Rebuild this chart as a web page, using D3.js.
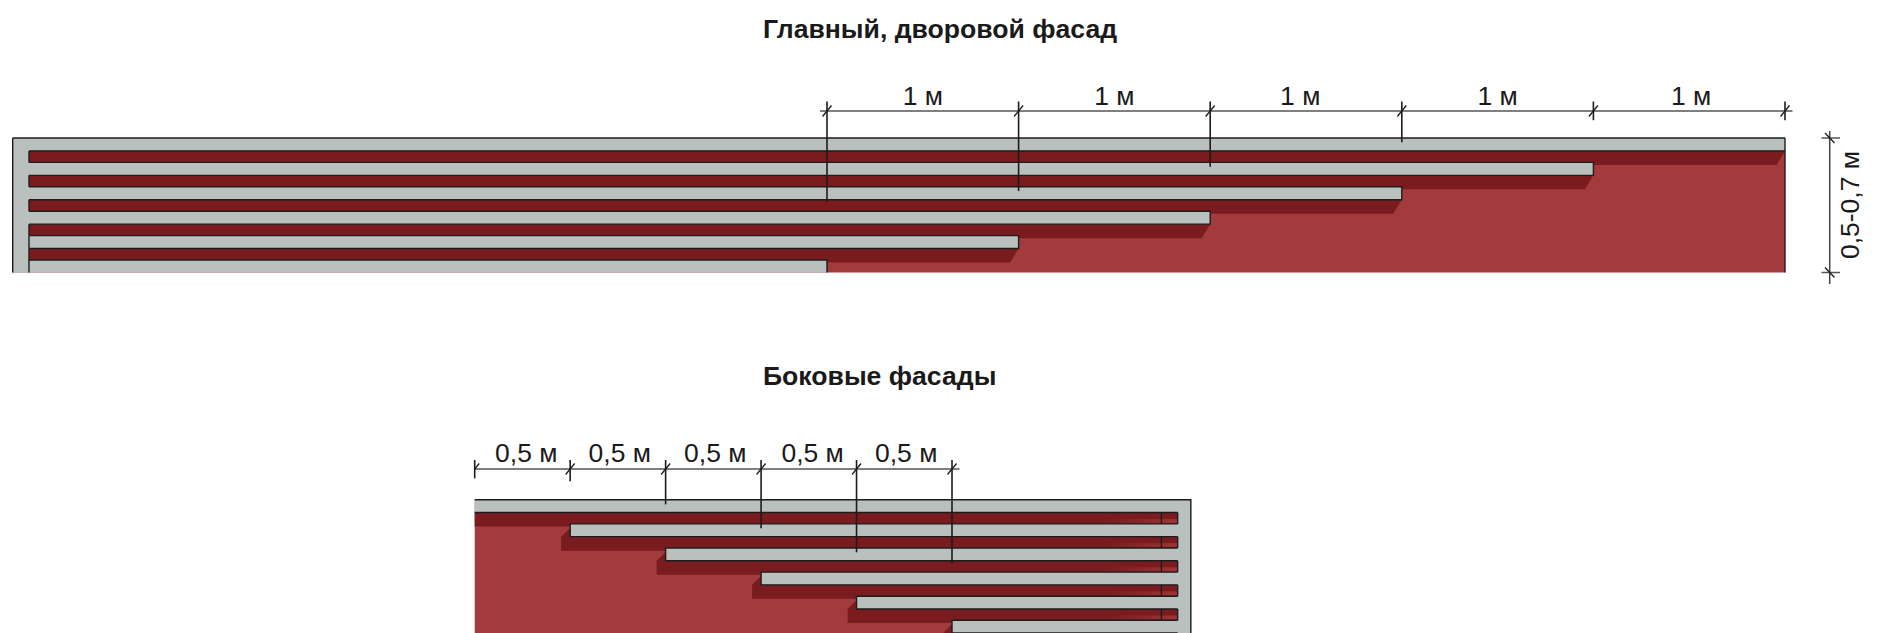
<!DOCTYPE html>
<html>
<head>
<meta charset="utf-8">
<script src="https://cdn.jsdelivr.net/npm/d3@7"></script>
<style>
  html, body { margin: 0; padding: 0; background: #fff; }
  svg { display: block; }
  text { font-family: "Liberation Sans", Arial, sans-serif; fill: #1a1a1a; }
</style>
</head>
<body>
<div id="vis"></div>
<script>
const WIDTH = 1890;
const HEIGHT = 633;
const GREY = "#bac0be";
const DARK_RED = "#7a1c1f";
const LIGHT_RED = "#a33b3c";
const LINE = "#1c1c1c";
const EDGE = 1.4;

// titles
const mainTitle = "Главный, дворовой фасад";
const sideTitle = "Боковые фасады";

// main facade: metres along the chain, rows counted from the top
const mainTicks = [0, 1, 2, 3, 4, 5];
const mainLabels = ["1 м", "1 м", "1 м", "1 м", "1 м"];
const mainLabelAt = [0.5, 1.5, 2.47, 3.5, 4.51];
const mainPlankEnds = [5, 4, 3, 2, 1, 0];
const mainExtensionEnds = [2.62, 2.17, 1.18, 0.17, -0.73, -0.73];
const mainHeightLabel = "0,5-0,7 м";

// side facades
const sideTicks = [0, 0.5, 1, 1.5, 2, 2.5];
const sideLabels = ["0,5 м", "0,5 м", "0,5 м", "0,5 м", "0,5 м"];
const sideLabelAt = [0.27, 0.76, 1.26, 1.77, 2.26];
const sidePlankStarts = [0, 0.5, 1, 1.5, 2, 2.5];
const sideExtensionEnds = [-0.89, -0.77, 0.19, 1.18, 2.18, 2.63];

const svg = d3.select("#vis").append("svg")
  .attr("width", WIDTH)
  .attr("height", HEIGHT);

// scales
const xMain = d3.scaleLinear().domain([0, 5]).range([827, 1785]);
const yMain = d3.scaleLinear().domain([0, 6]).range([138, 284.4]);
const xSide = d3.scaleLinear().domain([0, 2.5]).range([474.7, 952]);
const ySide = d3.scaleLinear().domain([0, 6]).range([499.8, 644.4]);

const PLANK = 0.53; // plank height, in rows

// gradient for the sunlit end of the side facade gaps
const grad = svg.append("defs").append("linearGradient")
  .attr("id", "glow").attr("x1", 0).attr("x2", 1).attr("y1", 0).attr("y2", 0);
grad.append("stop").attr("offset", 0).attr("stop-color", "#9a3335").attr("stop-opacity", 0);
grad.append("stop").attr("offset", 1).attr("stop-color", "#a83c3e").attr("stop-opacity", 0.8);

svg.append("text").attr("x", 763).attr("y", 38)
  .attr("font-size", 26.6).attr("font-weight", "bold").text(mainTitle);
svg.append("text").attr("x", 763).attr("y", 385)
  .attr("font-size", 26.6).attr("font-weight", "bold").text(sideTitle);

// ---- main facade ----
const mainG = svg.append("g");
const mLeft = xMain(-4.25), mInner = xMain(-4.165), mRight = xMain(5);
const mTop = 138, mBottom = 272.5;

mainG.append("rect").attr("x", mLeft).attr("y", mTop)
  .attr("width", mRight - mLeft).attr("height", mBottom - mTop)
  .attr("fill", LIGHT_RED);

// shadows fall down and left from the plank end
mainG.selectAll(".shadow").data(mainPlankEnds.slice(0, 5)).enter().append("path")
  .attr("fill", DARK_RED)
  .attr("d", (d, i) => {
    const b = yMain(i + PLANK);
    return `M${mInner},${b}H${xMain(d)}L${xMain(d) - 8.5},${b + 14}H${mInner}Z`;
  });

mainG.append("rect").attr("x", mLeft).attr("y", mTop)
  .attr("width", mInner - mLeft).attr("height", mBottom - mTop)
  .attr("fill", GREY);

mainG.selectAll(".plank").data(mainPlankEnds).enter().append("rect")
  .attr("x", mLeft)
  .attr("y", (d, i) => yMain(i))
  .attr("width", d => xMain(d) - mLeft)
  .attr("height", (d, i) => Math.min(yMain(i + PLANK), mBottom) - yMain(i))
  .attr("fill", GREY);

// plank outlines
mainG.selectAll(".edge").data(mainPlankEnds).enter().append("path")
  .attr("fill", "none").attr("stroke", LINE).attr("stroke-width", EDGE)
  .attr("d", (d, i) => {
    const t = yMain(i), b = yMain(i + PLANK);
    if (i === 0) return `M${mLeft},${mTop}H${mRight}M${mInner},${b}H${mRight}`;
    if (i === 5) return `M${mInner},${t}H${xMain(d)}V${mBottom}`;
    return `M${mInner},${t}H${xMain(d)}V${b}H${mInner}`;
  });

// wall edges; the inner one only shows beside the gaps and the last two rows
mainG.selectAll(".inner").data(mainPlankEnds.slice(0, 5)).enter().append("line")
  .attr("x1", mInner).attr("x2", mInner)
  .attr("y1", (d, i) => yMain(i + PLANK))
  .attr("y2", (d, i) => i === 4 ? mBottom : yMain(i + 1))
  .attr("stroke", LINE).attr("stroke-width", EDGE);
mainG.append("line").attr("x1", mInner).attr("x2", mInner)
  .attr("y1", yMain(4)).attr("y2", yMain(4 + PLANK))
  .attr("stroke", LINE).attr("stroke-width", EDGE);
[mLeft, mRight].forEach(x => {
  mainG.append("line").attr("x1", x).attr("x2", x).attr("y1", mTop).attr("y2", mBottom)
    .attr("stroke", LINE).attr("stroke-width", EDGE);
});

// dimension chain over a facade
function drawChain(x, y, ticks, ends, labels, labelAt, chainY, tickTop, baseline, clipFirst) {
  const g = svg.append("g");
  const x0 = x(ticks[0]), x1 = x(ticks[ticks.length - 1]);

  g.append("line")
    .attr("x1", clipFirst ? x0 : x0 - 7).attr("x2", x1 + 7.5)
    .attr("y1", chainY).attr("y2", chainY)
    .attr("stroke", "#555").attr("stroke-width", 1.6);

  g.selectAll(".ext").data(ticks).enter().append("line")
    .attr("x1", d => x(d)).attr("x2", d => x(d))
    .attr("y1", tickTop)
    .attr("y2", (d, i) => y(ends[i]))
    .attr("stroke", LINE).attr("stroke-width", 1.6);

  g.selectAll(".slash").data(ticks).enter().append("line")
    .attr("x1", (d, i) => (clipFirst && i === 0) ? x(d) : x(d) - 4.5)
    .attr("x2", d => x(d) + 4.5)
    .attr("y1", (d, i) => (clipFirst && i === 0) ? chainY : chainY + 5.5)
    .attr("y2", chainY - 5.5)
    .attr("stroke", LINE).attr("stroke-width", 1.3);

  g.selectAll(".lab").data(labels).enter().append("text")
    .attr("x", (d, i) => x(labelAt[i]))
    .attr("y", baseline)
    .attr("text-anchor", "middle")
    .attr("font-size", 26.5)
    .text(d => d);
}

drawChain(xMain, yMain, mainTicks, mainExtensionEnds, mainLabels, mainLabelAt, 111, 101.5, 105, false);

// height dimension on the right
const hG = svg.append("g");
hG.append("line").attr("x1", 1829.7).attr("x2", 1829.7)
  .attr("y1", yMain(0) - 7).attr("y2", mBottom + 11.5)
  .attr("stroke", "#444").attr("stroke-width", 1.5);
[mTop, mBottom].forEach(y => {
  hG.append("line").attr("x1", 1821.5).attr("x2", 1840)
    .attr("y1", y).attr("y2", y).attr("stroke", "#555").attr("stroke-width", 1.5);
  hG.append("line").attr("x1", 1825).attr("x2", 1834.5)
    .attr("y1", y - 5).attr("y2", y + 5).attr("stroke", LINE).attr("stroke-width", 1.3);
});
hG.append("text")
  .attr("transform", "translate(1859,205) rotate(-90)")
  .attr("text-anchor", "middle")
  .attr("font-size", 26.5)
  .text(mainHeightLabel);

// ---- side facades ----
const sideG = svg.append("g");
const sLeft = xSide(0), sEnd = xSide(3.682), sOuter = xSide(3.751), sPart = xSide(3.597);
const sTop = 499.8, sBottom = HEIGHT;

sideG.append("rect").attr("x", sLeft).attr("y", sTop)
  .attr("width", sOuter - sLeft).attr("height", sBottom - sTop)
  .attr("fill", LIGHT_RED);

// shadows, row 0 runs off the left side of the wall
sideG.selectAll(".shadow").data(sidePlankStarts).enter().append("path")
  .attr("fill", DARK_RED)
  .attr("d", (d, i) => {
    const t = ySide(i), b = ySide(i + PLANK);
    if (i === 0) return `M${sLeft},${b}H${sEnd}V${b + 14}H${sLeft}Z`;
    return `M${xSide(d)},${t + 4}L${xSide(d) - 9},${b}V${b + 14}H${sEnd}V${t + 4}Z`;
  });

// lit ends of the gaps
sideG.selectAll(".glow").data(sidePlankStarts.slice(0, 5)).enter().append("rect")
  .attr("x", sEnd - 70)
  .attr("y", (d, i) => ySide(i + PLANK) + 6.5)
  .attr("width", 70).attr("height", 4)
  .attr("fill", "url(#glow)");

sideG.append("rect").attr("x", sEnd).attr("y", sTop)
  .attr("width", sOuter - sEnd).attr("height", sBottom - sTop)
  .attr("fill", GREY);

// planks run on into the grey end wall so no seam shows
sideG.selectAll(".plank").data(sidePlankStarts).enter().append("rect")
  .attr("x", d => xSide(d))
  .attr("y", (d, i) => ySide(i))
  .attr("width", d => sOuter - xSide(d))
  .attr("height", (d, i) => ySide(i + PLANK) - ySide(i))
  .attr("fill", GREY);

sideG.selectAll(".edge").data(sidePlankStarts).enter().append("path")
  .attr("fill", "none").attr("stroke", LINE).attr("stroke-width", EDGE)
  .attr("d", (d, i) => {
    const t = ySide(i), b = ySide(i + PLANK);
    if (i === 0) return `M${sLeft},${sTop}H${sOuter}V${sBottom}M${sLeft},${b}H${sEnd}`;
    return `M${sEnd},${t}H${xSide(d)}V${b}H${sEnd}`;
  });

// end stop and partition inside each gap
sidePlankStarts.slice(0, 5).forEach((d, i) => {
  [sPart, sEnd].forEach(x => {
    sideG.append("line").attr("x1", x).attr("x2", x)
      .attr("y1", ySide(i + PLANK)).attr("y2", ySide(i + 1))
      .attr("stroke", LINE).attr("stroke-width", EDGE);
  });
});

drawChain(xSide, ySide, sideTicks, sideExtensionEnds, sideLabels, sideLabelAt, 469, 460, 461.5, true);
</script>
</body>
</html>
